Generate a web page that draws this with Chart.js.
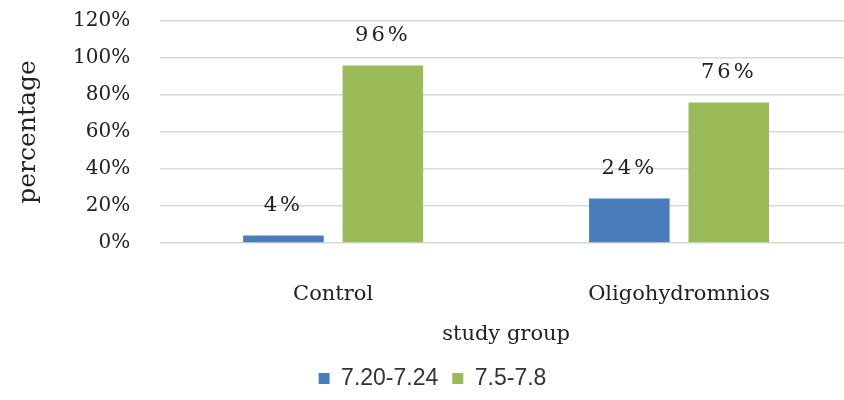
<!DOCTYPE html>
<html>
<head>
<meta charset="utf-8">
<script src="https://cdn.jsdelivr.net/npm/chart.js@4"></script>
<style>
  html, body { margin: 0; padding: 0; background: #fff; overflow: hidden; }
  #wrap { width: 852px; height: 400px; position: relative; }
</style>
</head>
<body>
<div id="wrap"><canvas id="myChart"></canvas></div>
<script>
const categories = ["Control", "Oligohydromnios"]
const seriesNames = ["7.20-7.24", "7.5-7.8"]
const lowValues = [4, 24]
const highValues = [96, 76]
const yTicks = [0, 20, 40, 60, 80, 100, 120]

const serif = "'DejaVu Serif', 'Liberation Serif', serif"

// draws the % labels above each bar
const valueLabels = {
    id: "valueLabels",
    afterDatasetsDraw(chart) {
        const ctx = chart.ctx
        ctx.save()
        ctx.font = "21px " + serif
        ctx.letterSpacing = "3px"
        ctx.fillStyle = "#222"
        ctx.textAlign = "center"
        ctx.textBaseline = "middle"
        chart.data.datasets.forEach((ds, i) => {
            chart.getDatasetMeta(i).data.forEach((bar, j) => {
                ctx.fillText(ds.data[j] + "%", bar.x, bar.y - 30)
            })
        })
        ctx.restore()
    }
}

new Chart("myChart", {
    type: "bar",
    data: {
        labels: categories,
        datasets: [
            { label: seriesNames[0], data: lowValues, backgroundColor: "#4a7ebb" },
            { label: seriesNames[1], data: highValues, backgroundColor: "#9bbb59" }
        ]
    },
    options: {
        responsive: true,
        maintainAspectRatio: false,
        animation: false,
        categoryPercentage: 0.575,
        barPercentage: 0.81,
        layout: { padding: { top: 0, left: 13, right: 0, bottom: 0 } },
        plugins: {
            tooltip: { enabled: false },
            legend: {
                position: "bottom",
                labels: {
                    boxWidth: 11,
                    boxHeight: 11,
                    padding: 14,
                    color: "#333",
                    font: { family: "'Liberation Sans', Arial, sans-serif", size: 23 }
                }
            }
        },
        scales: {
            x: {
                grid: { display: false },
                border: { display: false },
                // fixed height, otherwise padding gets counted twice
                afterFit: axis => { axis.height = 110 },
                ticks: { color: "#222", padding: 31, maxRotation: 0, minRotation: 0, font: { family: serif, size: 21 } },
                title: { display: true, text: "study group", color: "#222", padding: { top: 15, bottom: 6 }, font: { family: serif, size: 21 } }
            },
            y: {
                min: 0,
                max: 120,
                afterBuildTicks: axis => { axis.ticks = yTicks.map(v => ({ value: v })) },
                // tick padding also pads top/bottom in v4, undo that
                afterFit: axis => { axis.paddingTop = 21; axis.paddingBottom = 12 },
                grid: { color: "#d9d9d9", lineWidth: 1.5, drawTicks: false },
                border: { display: false },
                ticks: {
                    color: "#222",
                    padding: 30,
                    font: { family: serif, size: 20 },
                    callback: v => v + "%"
                },
                title: { display: true, text: "percentage", color: "#222", padding: { top: 0, bottom: 0 }, font: { family: serif, size: 25 } }
            }
        }
    },
    plugins: [valueLabels]
})
</script>
</body>
</html>
